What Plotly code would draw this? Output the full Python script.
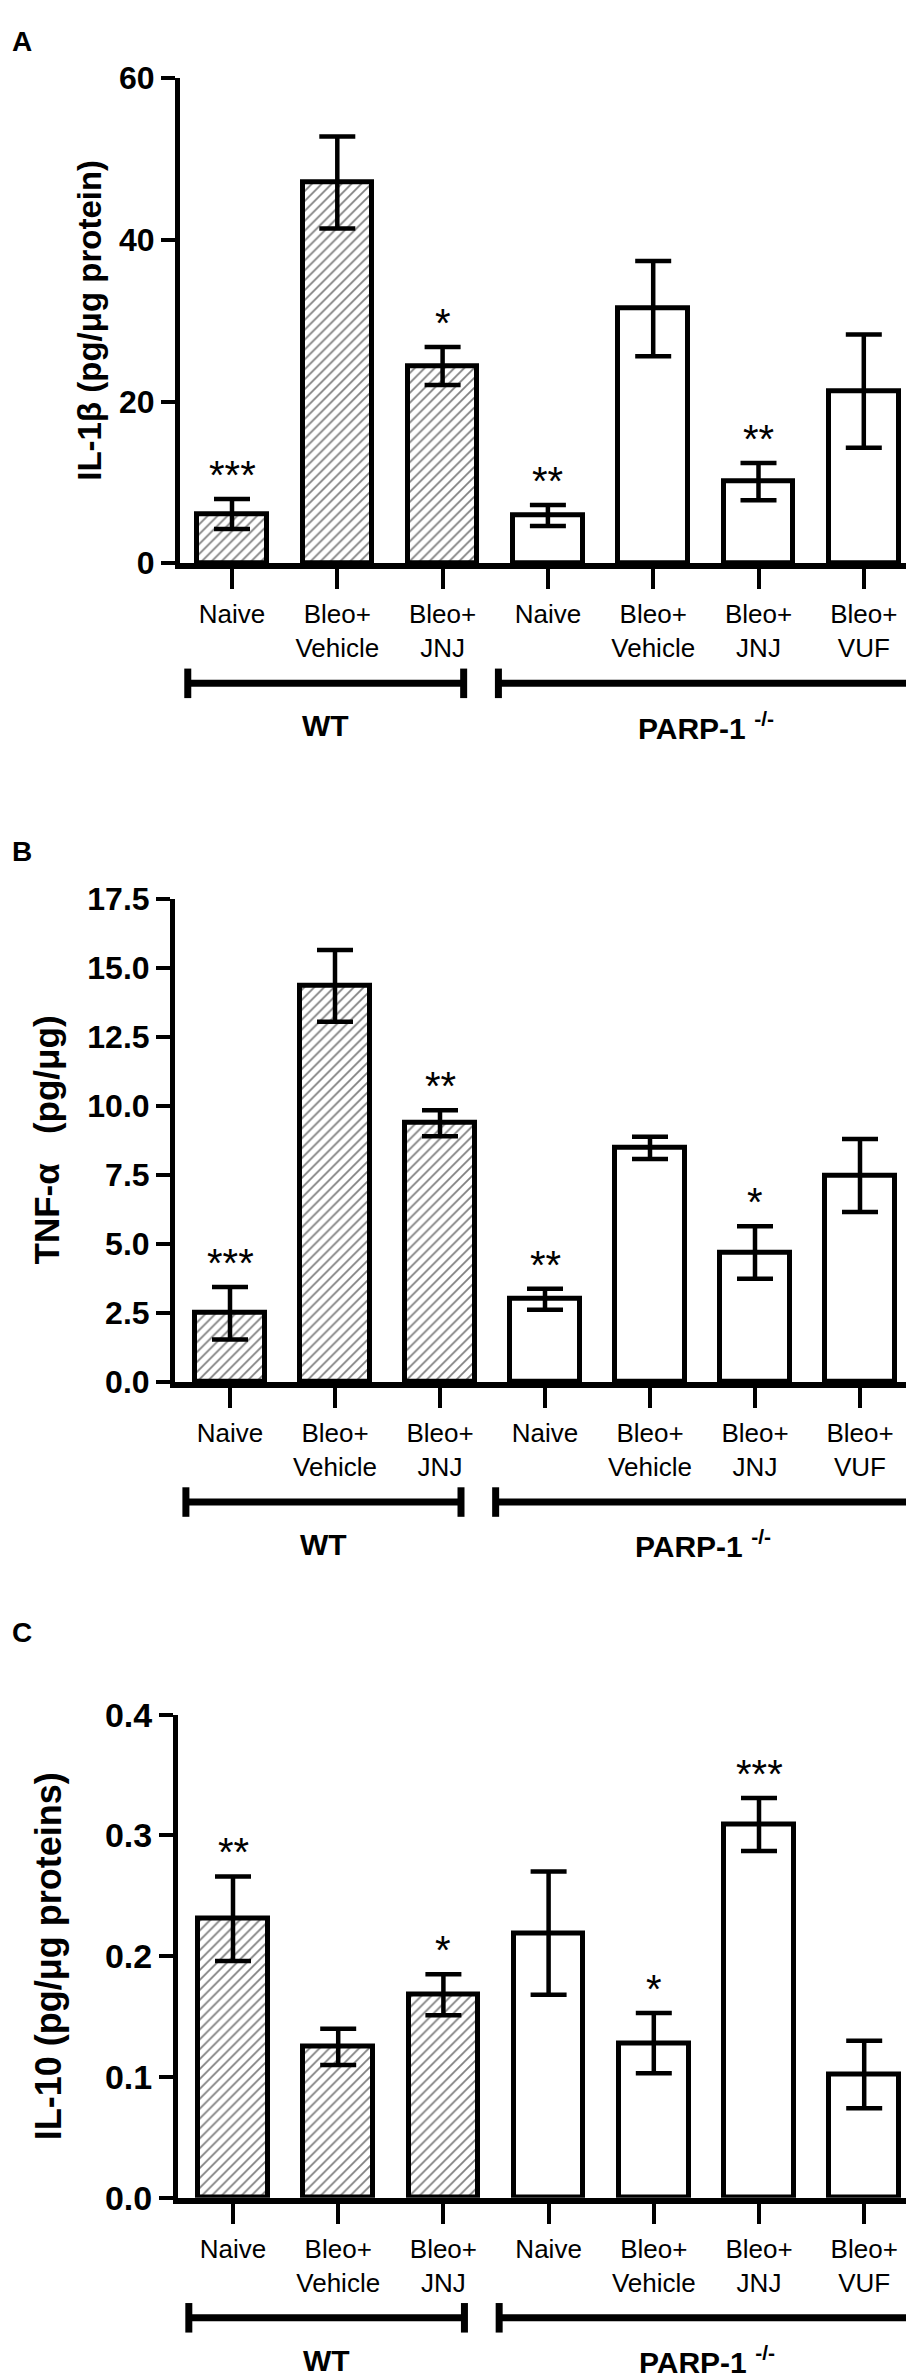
import plotly.graph_objects as go

# groups and categories (same 7 bars in each panel)
categories = ["Naive", "Bleo+<br>Vehicle", "Bleo+<br>JNJ",
              "Naive", "Bleo+<br>Vehicle", "Bleo+<br>JNJ", "Bleo+<br>VUF"]
hatched = [True, True, True, False, False, False, False]  # WT bars are hatched
groups = ["WT", "PARP-1 <sup>-/-</sup>"]

# A: IL-1beta
il1b_mean = [6.1, 47.1, 24.4, 5.9, 31.5, 10.1, 21.3]
il1b_sem = [1.85, 5.7, 2.35, 1.3, 5.9, 2.3, 7.0]
il1b_stars = ["***", "", "*", "**", "", "**", ""]

# B: TNF-alpha
tnf_mean = [2.49, 14.35, 9.37, 3.0, 8.48, 4.69, 7.48]
tnf_sem = [0.95, 1.3, 0.47, 0.38, 0.4, 0.95, 1.32]
tnf_stars = ["***", "", "**", "**", "", "*", ""]

# C: IL-10
il10_mean = [0.231, 0.125, 0.168, 0.219, 0.128, 0.309, 0.102]
il10_sem = [0.035, 0.015, 0.017, 0.051, 0.025, 0.022, 0.028]
il10_stars = ["**", "", "*", "", "*", "***", ""]

W, H = 914, 2378
FONT = "Liberation Sans, Arial, sans-serif"

panels = [
    dict(letter="A", mean=il1b_mean, sem=il1b_sem, stars=il1b_stars,
         title="IL-1β (pg/μg protein)", ticks=[0, 20, 40, 60], fmt="d",
         ymax=60, top=52, bottom=545, left=172, first=224, step=105.3,
         letter_y=15, title_x=82, tsize=33, ysize=32),
    dict(letter="B", mean=tnf_mean, sem=tnf_sem, stars=tnf_stars,
         title="TNF-α\u00a0\u00a0 (pg/μg)", ticks=[0, 2.5, 5, 7.5, 10, 12.5, 15, 17.5],
         fmt=".1f", ymax=17.5, top=886, bottom=1377, left=167, first=222,
         step=105.0, letter_y=838, title_x=38, tsize=35, ysize=32),
    dict(letter="C", mean=il10_mean, sem=il10_sem, stars=il10_stars,
         title="IL-10 (pg/μg proteins)", ticks=[0, 0.1, 0.2, 0.3, 0.4],
         fmt=".1f", ymax=0.4, top=1715, bottom=2206, left=170, first=225,
         step=105.2, letter_y=1632, title_x=40, tsize=36, ysize=34),
]


def py(px):
    return 1 - px / H


fig = go.Figure()
layout = dict(width=W, height=H, margin=dict(l=0, r=0, t=0, b=0),
              paper_bgcolor="white", plot_bgcolor="white", showlegend=False,
              font=dict(family=FONT, color="black"), bargap=0)
shapes = []
annotations = []
xs = list(range(len(categories)))

for i, p in enumerate(panels):
    n = "" if i == 0 else str(i + 1)
    xa, ya = "x" + n, "y" + n
    fig.add_trace(go.Bar(
        x=xs, y=p["mean"], width=0.66, xaxis=xa, yaxis=ya,
        marker=dict(color="white", line=dict(color="black", width=5),
                    pattern=dict(shape=["/" if h else "" for h in hatched],
                                 fgcolor="black", bgcolor="white",
                                 size=7, solidity=0.25)),
        error_y=dict(type="data", array=p["sem"], visible=True,
                     color="black", thickness=4.5, width=18),
    ))
    xmin = (p["left"] - p["first"]) / p["step"]
    xmax = (W - p["first"]) / p["step"]
    layout["xaxis" + n] = dict(
        domain=[p["left"] / W, 1], range=[xmin, xmax], anchor=ya,
        tickvals=xs, ticktext=categories, ticks="outside", ticklen=20,
        tickwidth=4, tickcolor="black", showline=True, linewidth=6,
        linecolor="black", showgrid=False, zeroline=False,
        tickfont=dict(size=26, family=FONT), ticklabelstandoff=3,
    )
    layout["yaxis" + n] = dict(
        domain=[py(p["bottom"]), py(p["top"])], range=[0, p["ymax"]],
        anchor=xa, tickvals=p["ticks"], tickformat=p["fmt"],
        ticks="outside", ticklen=14, tickwidth=4, tickcolor="black",
        showline=True, linewidth=5, linecolor="black", showgrid=False,
        zeroline=False, tickfont=dict(size=p["ysize"], family=FONT, weight="bold"),
    )
    # y axis title
    annotations.append(dict(x=p["title_x"] / W, y=py((p["top"] + p["bottom"]) / 2),
                            xref="paper", yref="paper", text="<b>%s</b>" % p["title"],
                            textangle=-90, showarrow=False,
                            xanchor="center", yanchor="middle",
                            font=dict(size=p["tsize"], family=FONT)))
    # significance stars
    for x, m, s, st in zip(xs, p["mean"], p["sem"], p["stars"]):
        if st:
            annotations.append(dict(x=x, y=m + s, xref=xa, yref=ya, text=st,
                                    showarrow=False, yanchor="bottom", yshift=0,
                                    font=dict(size=40, family=FONT)))
    # panel letter
    annotations.append(dict(x=2 / W, y=py(p["letter_y"]), xref="paper", yref="paper",
                            text="<b>%s</b>" % p["letter"], showarrow=False,
                            xanchor="left", yanchor="middle",
                            font=dict(size=28, family=FONT)))
    # group brackets
    yb = p["bottom"] + 122
    for (x0, x1), g in zip([(-0.42, 2.2), (2.53, 6.48)], groups):
        shapes.append(dict(type="line", xref=xa, yref="paper", x0=x0, x1=x1,
                           y0=py(yb), y1=py(yb), line=dict(color="black", width=7)))
        for xe in (x0, x1):
            shapes.append(dict(type="line", xref=xa, yref="paper", x0=xe, x1=xe,
                               y0=py(yb - 15), y1=py(yb + 15),
                               line=dict(color="black", width=7)))
        annotations.append(dict(x=(x0 + x1) / 2, y=py(yb + 43), xref=xa, yref="paper",
                                text="<b>%s</b>" % g, showarrow=False,
                                yanchor="middle", font=dict(size=30, family=FONT)))

layout["shapes"] = shapes
layout["annotations"] = annotations
fig.update_layout(**layout)

fig.write_html("out.html")
